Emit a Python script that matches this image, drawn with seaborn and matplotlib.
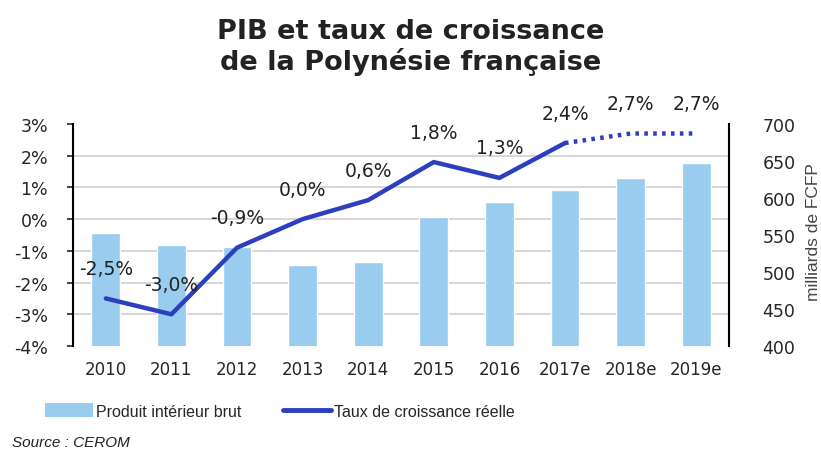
import numpy as np
import pandas as pd
import matplotlib
matplotlib.use("Agg")
import matplotlib.pyplot as plt
import seaborn as sns
from matplotlib.patches import Patch
from matplotlib.lines import Line2D

# Data
years = ["2010", "2011", "2012", "2013", "2014", "2015", "2016", "2017e", "2018e", "2019e"]
pib = [553, 536, 534, 510, 514, 575, 595, 611, 627, 647]          # milliards de FCFP
croissance = [-2.5, -3.0, -0.9, 0.0, 0.6, 1.8, 1.3, 2.4, 2.7, 2.7]  # %
labels = ["-2,5%", "-3,0%", "-0,9%", "0,0%", "0,6%", "1,8%", "1,3%", "2,4%", "2,7%", "2,7%"]
n_real = 8  # 2010..2017e solid, then dotted

left_ticks = [3, 2, 1, 0, -1, -2, -3, -4]
right_ticks = [700, 650, 600, 550, 500, 450, 400]

bar_color = "#99CCEE"
line_color = "#2B3FBF"

sns.set_style("white")
plt.rcParams["font.family"] = ["DejaVu Sans"]
narrow = ["Liberation Sans", "DejaVu Sans"]

df = pd.DataFrame({"pos": np.arange(len(years)), "annee": years, "pib": pib, "taux": croissance})

fig = plt.figure(figsize=(8.21, 4.52), dpi=100)
ax = fig.add_axes([73 / 821, 1 - 347 / 452, (729 - 73) / 821, (347 - 125) / 452])

# bars on the primary axis, shown on the right
sns.barplot(data=df, x="pos", y="pib", color=bar_color, width=0.44, saturation=1, ax=ax)
for p in ax.patches:
    p.set_zorder(3)

# growth line on twin axis, shown on the left
ax2 = ax.twinx()
ax2.yaxis.tick_left()
ax.yaxis.tick_right()

ax.set_ylim(400, 700)
ax.set_yticks(right_ticks)
# gridlines follow the left (%) scale, drawn behind the bars
ax.set_yticks(np.linspace(400, 700, len(left_ticks)), minor=True)
ax.grid(False)
ax.grid(axis="y", which="minor", color="#D0D0D0", linewidth=1.2, zorder=0)
ax.tick_params(axis="y", which="minor", length=0)
ax.set_xlim(-0.5, len(years) - 0.5)
ax.set_xticks(range(len(years)))
ax.set_xticklabels(years, fontsize=12)
ax.set_xlabel("")
ax.set_ylabel("")
ax.tick_params(axis="y", which="major", labelsize=12.5, length=0, pad=24)
ax.tick_params(axis="x", length=0, pad=10)
ax.set_axisbelow(True)
for s in ["top", "bottom", "left"]:
    ax.spines[s].set_visible(False)
ax.spines["right"].set_color("black")
ax.spines["right"].set_linewidth(1.5)

sns.lineplot(data=df.iloc[:n_real], x="pos", y="taux", color=line_color, linewidth=3.2, ax=ax2)
sns.lineplot(data=df.iloc[n_real - 1:], x="pos", y="taux", color=line_color, linewidth=3.2,
             linestyle=(0, (0.8, 1.2)), ax=ax2)
ax2.set_ylim(-4, 3)
ax2.set_yticks(left_ticks)
ax2.set_yticklabels([f"{t}%" for t in left_ticks], fontsize=12.5)
ax2.tick_params(axis="y", direction="out", length=4, width=1.2, pad=14)
ax2.grid(False)
ax2.set_xlabel("")
ax2.set_ylabel("")
for s in ["top", "bottom", "right"]:
    ax2.spines[s].set_visible(False)
ax2.spines["left"].set_color("black")
ax2.spines["left"].set_linewidth(1.5)

for x, y, lab in zip(df["pos"], df["taux"], labels):
    ax2.annotate(lab, (x, y), xytext=(0, 30), textcoords="offset pixels",
                 ha="center", va="center", fontsize=13.5, color="#222222")

# title
fig.text(0.5, 1 - 32 / 452, "PIB et taux de croissance", ha="center", va="center",
         fontsize=19.5, fontweight="bold", color="#222222")
fig.text(0.5, 1 - 62 / 452, "de la Polynésie française", ha="center", va="center",
         fontsize=19.5, fontweight="bold", color="#222222")

# right axis label, partly cut at the edge like the original
fig.text(813 / 821, 1 - 232 / 452, "milliards de FCFP", rotation=90, ha="center", va="center",
         fontsize=12.5, color="#444444", family=narrow)

# legend
handles = [Patch(facecolor=bar_color, edgecolor="none"),
           Line2D([0], [0], color=line_color, linewidth=3.5)]
fig.legend(handles, ["Produit intérieur brut", "Taux de croissance réelle"],
           loc="center", bbox_to_anchor=(280 / 821, 1 - 412 / 452), ncol=2, frameon=False,
           prop={"family": narrow, "size": 11.5}, handlelength=3.0, handleheight=0.9,
           handletextpad=0.2, columnspacing=2.6)

fig.text(12 / 821, 1 - 443 / 452, "Source : CEROM", ha="left", va="center",
         fontsize=11, style="italic", color="#222222", family=narrow)

fig.savefig("out.png", dpi=100)
